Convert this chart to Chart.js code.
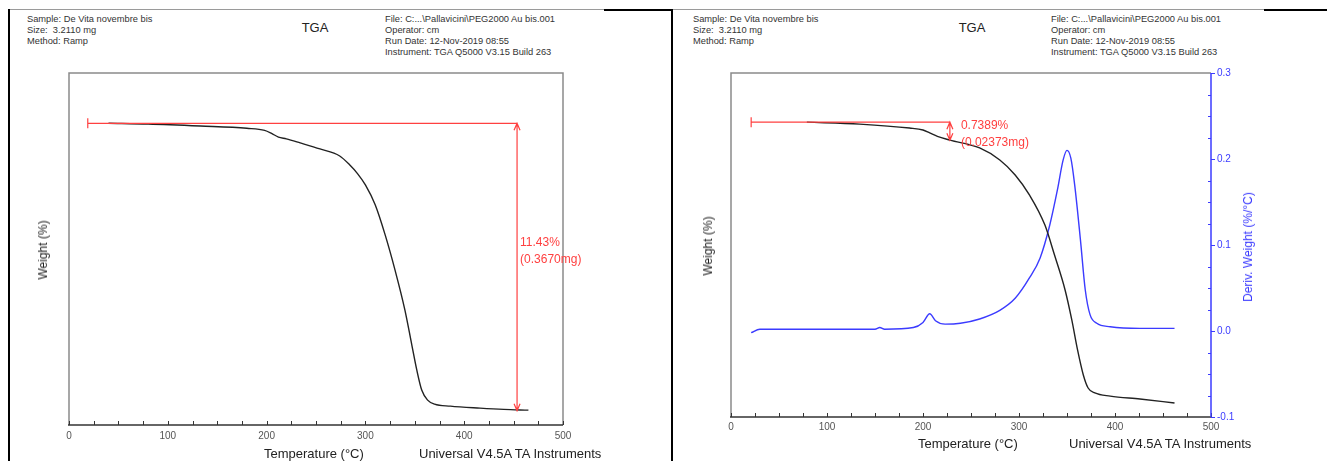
<!DOCTYPE html>
<html><head><meta charset="utf-8">
<script src="https://cdn.jsdelivr.net/npm/chart.js@4/dist/chart.umd.min.js"></script>
<style>
body{margin:0;width:1327px;height:461px;background:#fff;position:relative;overflow:hidden;font-family:"Liberation Sans",Arial,sans-serif;}
.t{position:absolute;white-space:nowrap;color:#333;}
.hd{font-size:9.3px;line-height:11px;}
.ttl{font-size:13px;color:#222;transform:translateX(-50%);}
.ax{font-size:13px;color:#222;}
.rot{transform:translate(-50%,-50%) rotate(-90deg);font-size:12px;color:#222;}
.ln{position:absolute;}
canvas{position:absolute;top:0;}
</style></head>
<body>
<div class="ln" style="left:8px;top:9px;width:2px;height:452px;background:#000"></div>
<div class="ln" style="left:10px;top:9px;width:594px;height:1px;background:#9a9a9a"></div>
<div class="ln" style="left:604px;top:9px;width:67px;height:2px;background:#000"></div>
<div class="ln" style="left:671px;top:9px;width:2px;height:452px;background:#000"></div>
<div class="ln" style="left:673px;top:9px;width:591px;height:1px;background:#9a9a9a"></div>
<div class="ln" style="left:1264px;top:9px;width:63px;height:2px;background:#000"></div>

<div class="t hd" style="left:27px;top:14px">Sample: De Vita novembre bis<br>Size:&nbsp; 3.2110 mg<br>Method: Ramp</div>
<div class="t ttl" style="left:315px;top:20px">TGA</div>
<div class="t hd" style="left:385px;top:14px">File: C:...\Pallavicini\PEG2000 Au bis.001<br>Operator: cm<br>Run Date: 12-Nov-2019 08:55<br>Instrument: TGA Q5000 V3.15 Build 263</div>

<div class="t hd" style="left:693px;top:14px">Sample: De Vita novembre bis<br>Size:&nbsp; 3.2110 mg<br>Method: Ramp</div>
<div class="t ttl" style="left:972px;top:20px">TGA</div>
<div class="t hd" style="left:1051px;top:14px">File: C:...\Pallavicini\PEG2000 Au bis.001<br>Operator: cm<br>Run Date: 12-Nov-2019 08:55<br>Instrument: TGA Q5000 V3.15 Build 263</div>

<canvas id="c1" width="670" height="461" style="left:0"></canvas>
<canvas id="c2" width="655" height="461" style="left:672px"></canvas>

<div class="t rot" style="left:43px;top:250px">Weight (%)</div>
<div class="t rot" style="left:708px;top:246px">Weight (%)</div>
<div class="t rot" style="left:1248px;top:247px;color:#3b3bff">Deriv. Weight (%/°C)</div>
<div class="t ax" style="left:264px;top:446px">Temperature (°C)</div>
<div class="t ax" style="left:419px;top:446px">Universal V4.5A TA Instruments</div>
<div class="t ax" style="left:918px;top:436px">Temperature (°C)</div>
<div class="t ax" style="left:1069px;top:436px">Universal V4.5A TA Instruments</div>

<script>
// ---- Data ----
const tempA   = [40, 80, 133, 180, 198, 205, 212, 220, 234, 254, 274, 284, 292, 300, 310, 320, 330, 340, 347, 352, 357, 363, 370, 386, 416, 440, 465];
const weightA = [100.0, 99.97, 99.89, 99.8, 99.72, 99.6, 99.45, 99.38, 99.22, 98.98, 98.7, 98.35, 98.0, 97.55, 96.75, 95.56, 94.16, 92.57, 91.18, 90.19, 89.39, 88.99, 88.83, 88.75, 88.67, 88.62, 88.59];

const tempB   = [79, 134, 186, 200, 207, 215, 228, 259, 280, 296, 311, 327, 337, 348, 355, 361, 367, 372, 379, 395, 426, 462];
const weightB = [100.0, 99.92, 99.76, 99.68, 99.56, 99.42, 99.27, 98.95, 98.46, 97.85, 97.03, 95.81, 94.59, 93.17, 91.95, 90.73, 89.71, 89.18, 88.98, 88.85, 88.73, 88.57];

const tempD   = [21, 30, 60, 100, 150, 155, 160, 190, 200, 207, 213, 223, 239, 259, 280, 296, 311, 322, 332, 340, 346, 350, 354, 358, 364, 369, 374, 381, 395, 426, 462];
const derivD  = [-0.002, 0.002, 0.002, 0.002, 0.002, 0.004, 0.002, 0.004, 0.01, 0.02, 0.012, 0.008, 0.009, 0.014, 0.024, 0.038, 0.062, 0.085, 0.123, 0.164, 0.199, 0.21, 0.201, 0.17, 0.106, 0.048, 0.019, 0.009, 0.005, 0.003, 0.003];

const xTicks = [0, 100, 200, 300, 400, 500];
const derivTicks = [-0.1, 0.0, 0.1, 0.2, 0.3];
const weightRange = [88, 102];

// annotations: [start T, end T, level %, end %]
const stepA = [19, 453.5, 100, 88.57];
const stepALabels = ["11.43%", "(0.3670mg)"];
const stepB = [21, 228, 100, 99.26];
const stepBLabels = ["0.7389%", "(0.02373mg)"];

const RED = '#ff4040', BLUE = '#3b3bff';
const pts = (xs, ys) => xs.map((x, i) => ({x, y: ys[i]}));

const framePlugin = {
  id: 'frame',
  beforeDatasetsDraw(chart, args, o) {
    const {ctx, chartArea: a, scales} = chart;
    ctx.save();
    ctx.lineWidth = 1.5; ctx.strokeStyle = '#8a8a8a';
    ctx.beginPath();
    ctx.moveTo(a.left, a.bottom); ctx.lineTo(a.left, a.top); ctx.lineTo(a.right, a.top);
    if (!o.blueRight) ctx.lineTo(a.right, a.bottom);
    ctx.stroke();
    ctx.strokeStyle = '#333'; ctx.lineWidth = 1.5;
    ctx.beginPath(); ctx.moveTo(a.left - 1, a.bottom); ctx.lineTo(a.right, a.bottom); ctx.stroke();
    const xs = scales.x;
    ctx.lineWidth = 1;
    ctx.beginPath();
    for (let v = xs.min; v <= xs.max + 0.01; v += 25) {
      const px = Math.round(xs.getPixelForValue(v)) + 0.5;
      ctx.moveTo(px, a.bottom); ctx.lineTo(px, a.bottom - 4);
    }
    ctx.stroke();
    if (o.blueRight) {
      const ys = scales.y1;
      ctx.strokeStyle = BLUE; ctx.lineWidth = 1.5;
      ctx.beginPath(); ctx.moveTo(a.right, a.top); ctx.lineTo(a.right, a.bottom); ctx.stroke();
      ctx.lineWidth = 1;
      ctx.beginPath();
      for (let k = 0; k <= 16; k++) {
        const v = ys.min + k * 0.025;
        const py = Math.round(ys.getPixelForValue(v)) + 0.5;
        if (k % 4 === 0) { ctx.moveTo(a.right, py); ctx.lineTo(a.right + 4, py); }
        else { ctx.moveTo(a.right, py); ctx.lineTo(a.right - 3, py); }
      }
      ctx.stroke();
    }
    ctx.restore();
  },
  afterDatasetsDraw(chart, args, o) {
    const n = o.note; if (!n) return;
    const {ctx, scales} = chart;
    const xs = scales.x, ys = scales.y;
    const x0 = xs.getPixelForValue(n.v[0]), x1 = xs.getPixelForValue(n.v[1]);
    const yT = ys.getPixelForValue(n.v[2]), yB = ys.getPixelForValue(n.v[3]);
    ctx.save();
    ctx.strokeStyle = RED; ctx.lineWidth = 1.2;
    ctx.beginPath();
    ctx.moveTo(x0, yT); ctx.lineTo(x1, yT);
    ctx.moveTo(x0, yT - 5); ctx.lineTo(x0, yT + 5);
    ctx.moveTo(x1, yT); ctx.lineTo(x1, yB);
    ctx.moveTo(x1 - 3, yT + 7); ctx.lineTo(x1, yT); ctx.lineTo(x1 + 3, yT + 7);
    ctx.moveTo(x1 - 3, yB - 7); ctx.lineTo(x1, yB); ctx.lineTo(x1 + 3, yB - 7);
    ctx.stroke();
    ctx.fillStyle = RED;
    ctx.font = '12px "Liberation Sans", Arial, sans-serif';
    ctx.textBaseline = 'middle';
    n.labels.forEach((s, i) => ctx.fillText(s, x1 + n.dx, n.ly + i * 17));
    ctx.restore();
  }
};

function baseX(h, pad) {
  return {
    type: 'linear', min: 0, max: 500,
    afterBuildTicks: s => { s.ticks = xTicks.map(v => ({value: v})); },
    afterFit: s => { s.height = h; },
    grid: {display: false, drawTicks: false},
    border: {display: false},
    ticks: {padding: pad, color: '#555', font: {size: 10, family: '"Liberation Sans", Arial, sans-serif'}}
  };
}
function weightY(w) {
  return {
    type: 'linear', position: 'left', min: weightRange[0], max: weightRange[1],
    afterFit: s => { s.width = w; },
    grid: {display: false, drawTicks: false},
    border: {display: false},
    ticks: {display: false}
  };
}
const common = {
  responsive: false, animation: false, devicePixelRatio: 1,
  elements: {point: {radius: 0}},
  plugins: {legend: {display: false}, tooltip: {enabled: false}}
};

new Chart(document.getElementById('c1'), {
  type: 'line',
  data: {datasets: [{data: pts(tempA, weightA), borderColor: '#222', borderWidth: 1.4, cubicInterpolationMode: 'monotone'}]},
  options: Object.assign({}, common, {
    layout: {padding: {top: 73, right: 107, left: 0, bottom: 0}},
    scales: {x: baseX(36, 5), y: weightY(69)},
    plugins: Object.assign({}, common.plugins, {frame: {blueRight: false, note: {v: stepA, labels: stepALabels, dx: 3, ly: 243}}})
  }),
  plugins: [framePlugin]
});

new Chart(document.getElementById('c2'), {
  type: 'line',
  data: {datasets: [
    {data: pts(tempB, weightB), borderColor: '#222', borderWidth: 1.4, cubicInterpolationMode: 'monotone', yAxisID: 'y'},
    {data: pts(tempD, derivD), borderColor: BLUE, borderWidth: 1.4, cubicInterpolationMode: 'monotone', yAxisID: 'y1'}
  ]},
  options: Object.assign({}, common, {
    layout: {padding: {top: 73, right: 0, left: 0, bottom: 0}},
    scales: {
      x: baseX(44, 4),
      y: weightY(59),
      y1: {
        type: 'linear', position: 'right', min: -0.1, max: 0.3,
        afterBuildTicks: s => { s.ticks = derivTicks.map(v => ({value: v})); },
        afterFit: s => { s.width = 116; },
        grid: {display: false, drawTicks: false},
        border: {display: false},
        ticks: {padding: 6, color: BLUE, font: {size: 10, family: '"Liberation Sans", Arial, sans-serif'},
                callback: v => Number(v).toFixed(1)}
      }
    },
    plugins: Object.assign({}, common.plugins, {frame: {blueRight: true, note: {v: stepB, labels: stepBLabels, dx: 11, ly: 126}}})
  }),
  plugins: [framePlugin]
});
</script>
</body></html>
